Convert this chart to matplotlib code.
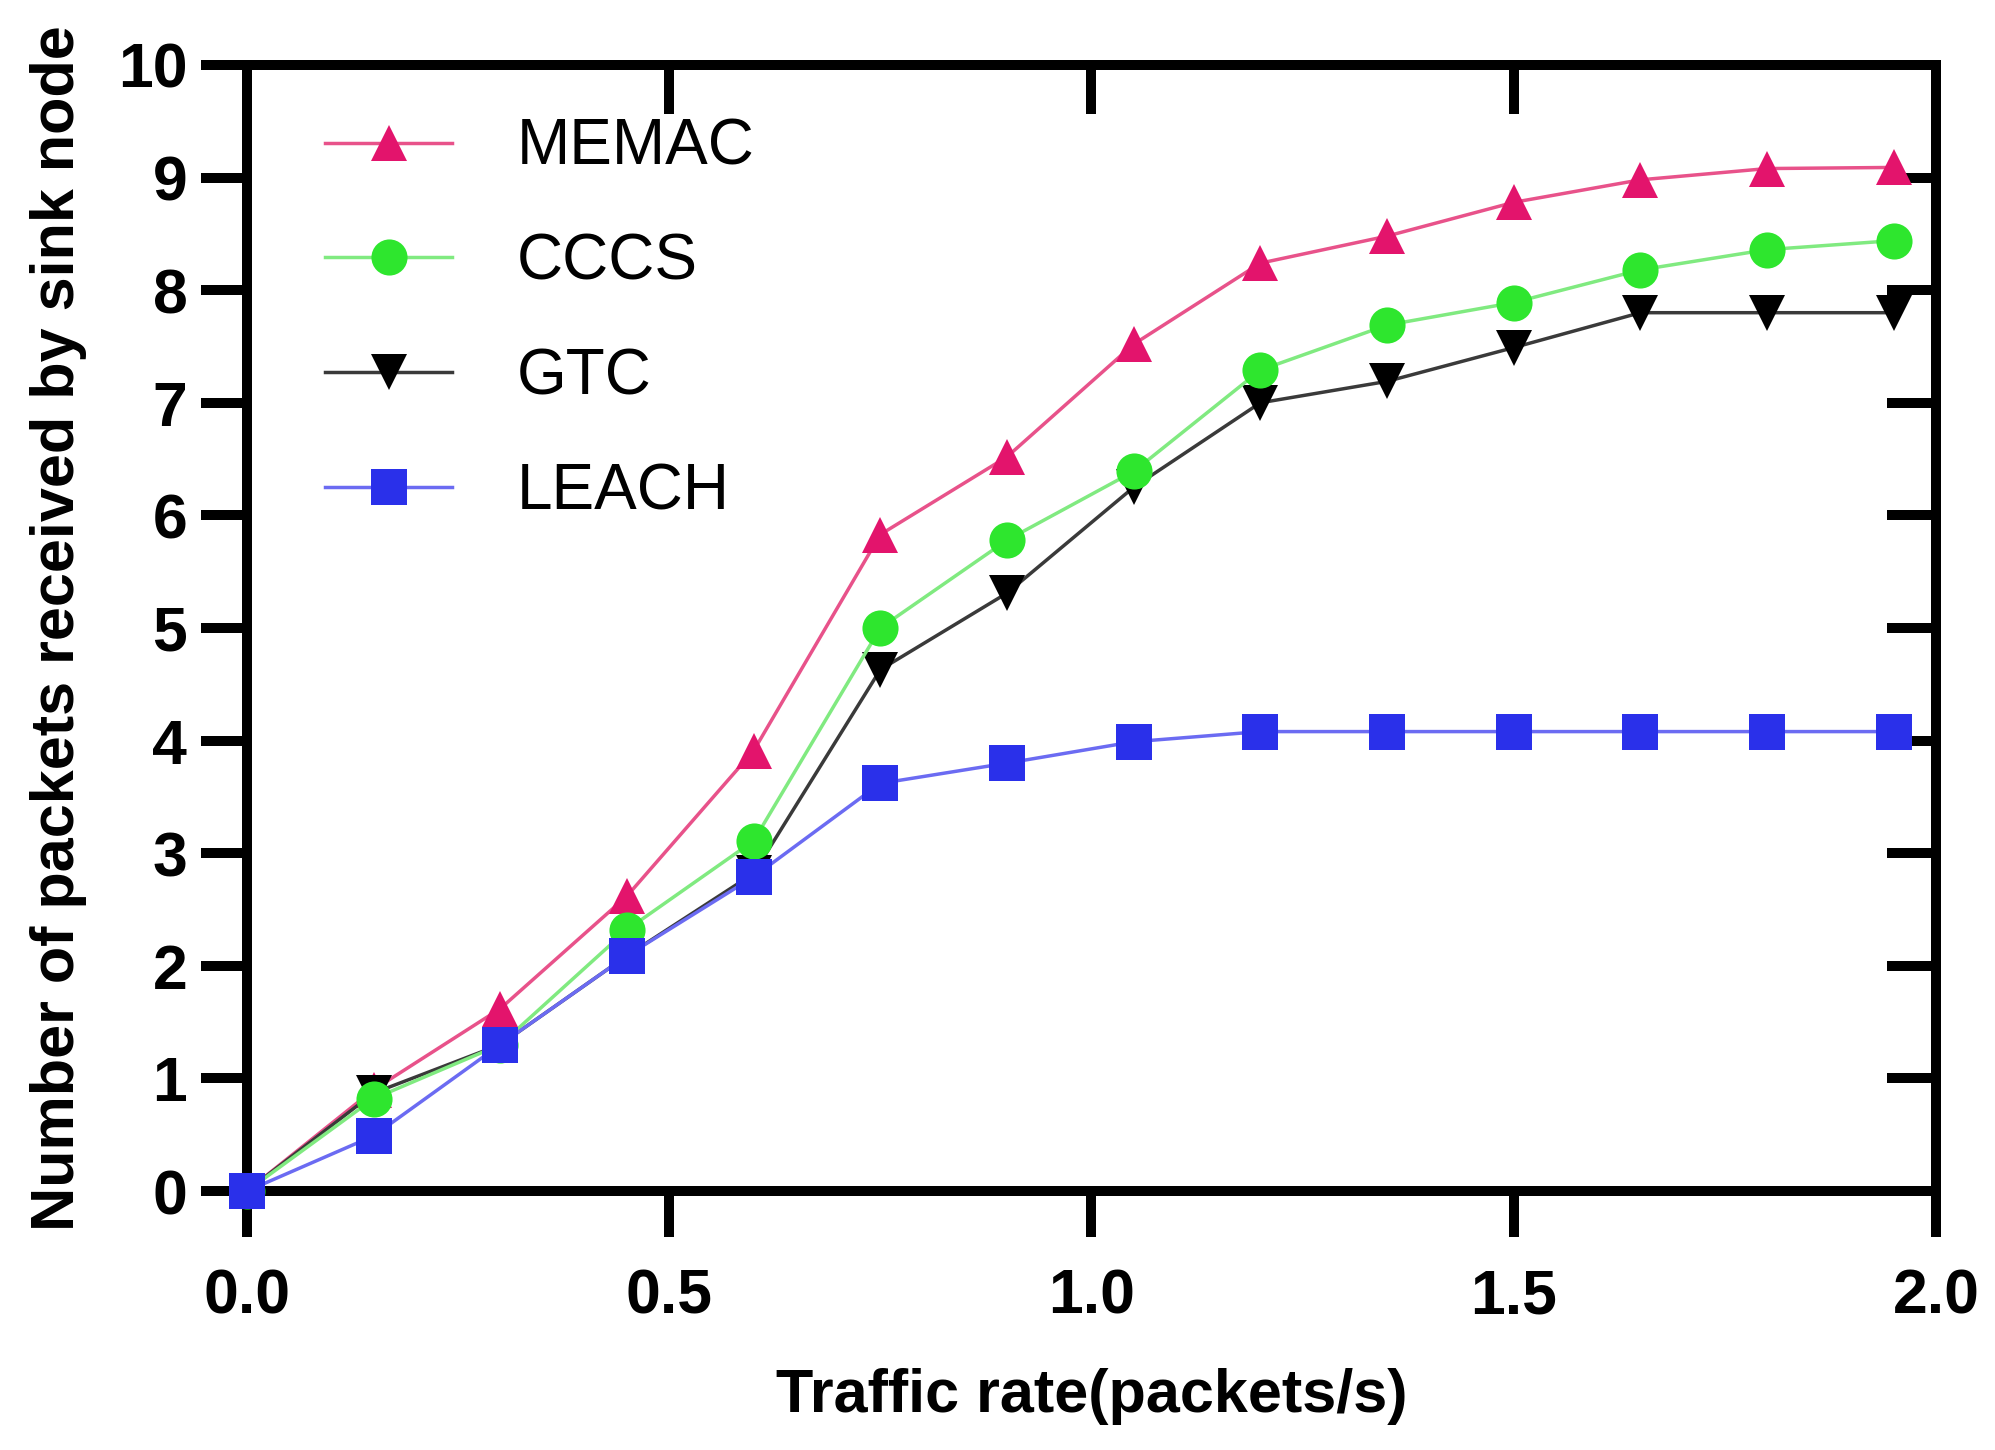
import numpy as np
import matplotlib
matplotlib.use("Agg")
import matplotlib.pyplot as plt

plt.rcParams['font.family'] = ['Liberation Sans', 'DejaVu Sans']

# traffic rate (packets/s)
rate = [0.0, 0.15, 0.30, 0.45, 0.60, 0.75, 0.90, 1.05, 1.20, 1.35, 1.50, 1.65, 1.80, 1.95]

memac = [0.0, 0.90, 1.62, 2.62, 3.91, 5.83, 6.52, 7.52, 8.24, 8.48, 8.78, 8.98, 9.08, 9.09]
cccs = [0.0, 0.82, 1.30, 2.32, 3.11, 5.00, 5.78, 6.39, 7.29, 7.69, 7.89, 8.18, 8.36, 8.44]
gtc = [0.0, 0.87, 1.30, 2.09, 2.82, 4.63, 5.31, 6.25, 7.00, 7.19, 7.49, 7.80, 7.80, 7.80]
leach = [0.0, 0.49, 1.30, 2.09, 2.79, 3.62, 3.80, 3.99, 4.08, 4.08, 4.08, 4.08, 4.08, 4.08]

x_ticks = [0.0, 0.5, 1.0, 1.5, 2.0]
y_ticks = list(range(0, 11))

fig = plt.figure(figsize=(19.95, 14.5), dpi=100)
ax = fig.add_axes([0.1238, 0.1786, 0.8466, 0.7766])

ms = 26
lw = 2.5
# (label, values, marker, line colour, marker colour, zorder)
series = [
    ("MEMAC", memac, "^", "#e8528a", "#e3146c", 3),
    ("CCCS", cccs, "o", "#80ea80", "#2ee62e", 5),
    ("GTC", gtc, "v", "#3a3a3a", "#000000", 4),
    ("LEACH", leach, "s", "#6b6bf2", "#2a30ea", 6),
]
for label, vals, mk, lc, mc, z in series:
    ax.plot(rate, vals, color=lc, lw=lw, marker=mk, markersize=ms,
            markerfacecolor=mc, markeredgewidth=0, label=label, zorder=z,
            clip_on=False)

ax.set_xlim(0, 2.0)
ax.set_ylim(0, 10)
ax.set_xticks(x_ticks)
ax.set_xticklabels([f"{v:.1f}" for v in x_ticks])
ax.set_yticks(y_ticks)

spine_w = 7.2
for s in ax.spines.values():
    s.set_linewidth(spine_w)

ax.tick_params(axis='both', direction='out', length=33, width=spine_w,
               labelsize=45)
ax.tick_params(axis='x', pad=22)
ax.tick_params(axis='y', pad=10)
for lab in ax.get_xticklabels() + ax.get_yticklabels():
    lab.set_fontweight('bold')

# inward ticks on the top and right edges
top = ax.secondary_xaxis('top')
top.set_xticks(x_ticks)
top.tick_params(direction='in', length=35, width=spine_w, labeltop=False)
top.spines['top'].set_linewidth(spine_w)
right = ax.secondary_yaxis('right')
right.set_yticks(y_ticks)
right.tick_params(direction='in', length=35, width=spine_w, labelright=False)
right.spines['right'].set_linewidth(spine_w)

ax.set_xlabel("Traffic rate(packets/s)", fontsize=44, fontweight='bold', labelpad=30)
ax.set_ylabel("Number of packets received by sink node", fontsize=44,
              fontweight='bold', labelpad=22)

ax.legend(loc='upper left', bbox_to_anchor=(0.046, 0.953), frameon=False,
          fontsize=46, handlelength=2.0, handletextpad=1.0, labelspacing=0.86,
          borderpad=0, borderaxespad=0)

fig.savefig("out.png", dpi=100)
